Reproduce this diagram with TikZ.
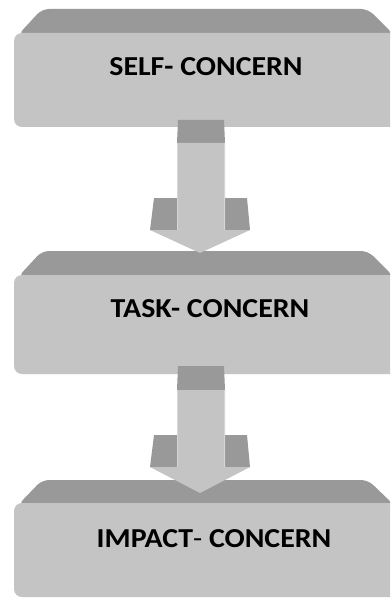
\documentclass[tikz,border=0pt]{standalone}
\usepackage{fontspec}
\setmainfont{Carlito}
\definecolor{facegray}{RGB}{196,196,196}
\definecolor{topgray}{RGB}{153,153,153}
\definecolor{edgegray}{RGB}{214,214,214}
\newcommand{\widetext}[1]{\scalebox{1.09}[1]{#1}}
\tikzset{
  face/.style={fill=facegray, draw=none, rounded corners=8bp},
  bevel/.style={fill=topgray, draw=none, rounded corners=7bp},
  arrowtop/.style={fill=topgray, draw=none},
  arrowfront/.style={fill=facegray, draw=none},
  lbl/.style={font=\bfseries\fontsize{27.5}{27.5}\selectfont, text=black, inner sep=0pt}
}
\begin{document}
\begin{tikzpicture}[x=1bp,y=-1bp]
\useasboundingbox (0,0) rectangle (390,598);
\clip (0,0) rectangle (390,598);
\fill[white] (0,0) rectangle (390,598);
% ---- boxes: bevel then face
\foreach \ya/\yb/\yc in {9/33/127, 251/275/374, 480/503/597}{
  \path[bevel] (18,\yb+2) -- (42,\ya) -- (368,\ya) -- (394,\yb+2) -- cycle;
  \path[face] (14,\yb) rectangle (412,\yc);
}
% ---- labels
\node[lbl] (self) at (206,67) {\widetext{SELF- CONCERN}};
\node[lbl] (task) at (210,309) {\widetext{TASK- CONCERN}};
\node[lbl] (impact) at (214,539) {\widetext{IMPACT{\mdseries-} CONCERN}};
% ---- block arrows
\foreach \ta/\tb/\wa/\wb/\tip in {120/143/198/230/253, 366/390/435/467/493}{
  \path[arrowtop] (178,\ta) -- (224,\ta) -- (225,\tb) -- (177,\tb) -- cycle;
  \path[arrowtop] (154,\wa) -- (177,\wa) -- (177,\wb) -- (150,\wb) -- cycle;
  \path[arrowtop] (225,\wa) -- (247,\wa) -- (250,\wb) -- (225,\wb) -- cycle;
  \path[arrowfront] (177,\tb) -- (225,\tb) -- (225,\wb) -- (250,\wb) -- (200,\tip) -- (150,\wb) -- (177,\wb) -- cycle;
  \draw[edgegray, line width=1.2bp] (177.6,\tb) -- (177.6,\wb);
  \draw[edgegray, line width=1.2bp] (224.4,\tb) -- (224.4,\wb);
}
\end{tikzpicture}
\end{document}
